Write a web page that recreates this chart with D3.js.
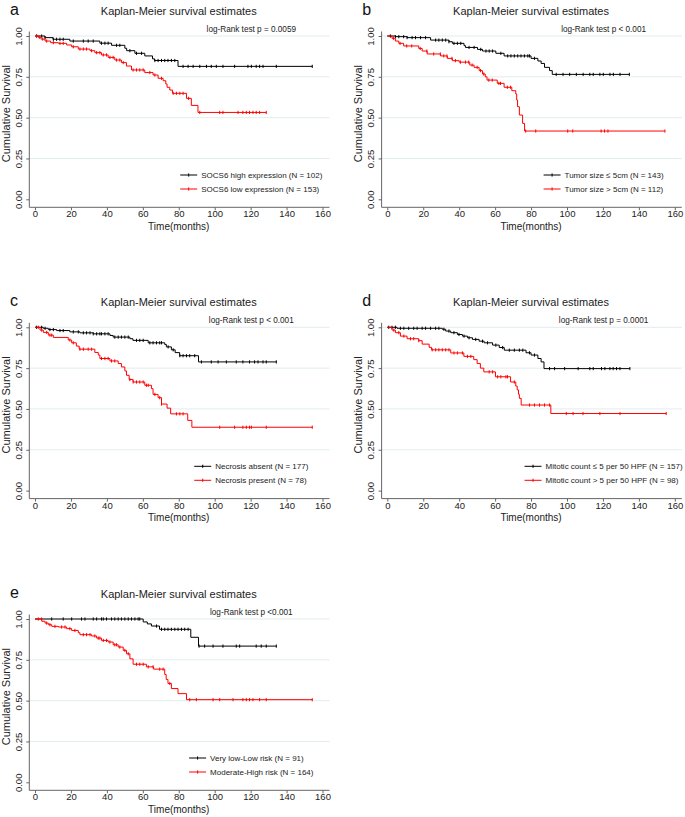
<!DOCTYPE html>
<html><head><meta charset="utf-8">
<script src="https://cdn.jsdelivr.net/npm/d3@7"></script>
<style>
html,body{margin:0;padding:0;background:#fff;}
svg{display:block;font-family:"Liberation Sans",Arial,sans-serif;}
</style></head>
<body>
<svg id="chart" width="685" height="817"></svg>
<script>
// ---------- DATA ----------
const panelLetters = ["a","b","c","d","e"];
const panelTitle = "Kaplan-Meier survival estimates";
const logRankLabels = ["log-Rank test p = 0.0059","log-Rank test p < 0.001","log-Rank test p < 0.001","log-Rank test p = 0.0001","log-Rank test p <0.001"];
const legendBlack = ["SOCS6 high expression (N = 102)","Tumor size \u2264 5cm (N = 143)","Necrosis absent (N = 177)","Mitotic count \u2264 5 per 50 HPF (N = 157)","Very low-Low risk (N = 91)"];
const legendRed = ["SOCS6 low expression (N = 153)","Tumor size > 5cm (N = 112)","Necrosis present (N = 78)","Mitotic count > 5 per 50 HPF (N = 98)","Moderate-High risk (N = 164)"];
const xTicks = [0,20,40,60,80,100,120,140,160];
const yTicks = [0,0.25,0.5,0.75,1];
const xTitle = "Time(months)";
const yTitle = "Cumulative Survival";

// step arrays: [time (months), survival after drop]; censor arrays: times
const aHighSteps = [[5.5,0.99],[10,0.98],[19.4,0.969],[36.1,0.956],[42.6,0.943],[50,0.925],[51,0.91],[55.6,0.894],[61.1,0.878],[65.4,0.86],[66.5,0.85],[79.6,0.814]];
const aHighCens = [0.9,3.7,5.6,10.2,12,13.9,15.7,21.3,26.9,29.6,32.4,37,38.9,40.7,45.4,47.2,52.8,56.5,59.3,66.7,68.5,70.4,72.2,74,75.9,77.8,82.4,85.2,88,91.7,95.4,98.1,100.9,104.6,111.1,118.5,120.4,123.1,125,126.9,134.3,154.3];
const aLowSteps = [[1.9,0.992],[3.3,0.981],[5.6,0.969],[8.7,0.959],[13,0.955],[17.6,0.945],[20.4,0.934],[24.1,0.92],[30.6,0.91],[33.3,0.898],[37,0.884],[40.7,0.869],[44.4,0.853],[48.1,0.837],[50.9,0.816],[53.7,0.792],[61.1,0.776],[65.7,0.761],[68.5,0.741],[71.3,0.726],[72.8,0.706],[73.5,0.686],[75,0.669],[76.5,0.649],[84.3,0.618],[87,0.575],[90.7,0.532]];
const aLowCens = [0.9,2.4,4.3,6.5,10.2,13.9,15.7,21.3,25,26.9,28.7,31.5,34.3,36.1,38,39.8,41.7,43.5,45.4,47.2,49.1,54.6,56.5,58.3,60.2,63.9,66.7,70.4,76.9,78.7,80.6,82.4,85.5,91.7,102.8,104.6,113,115.7,117.6,119.4,121.3,123.1,125,128.7];

const bSmallSteps = [[4.5,0.996],[11,0.99],[24.1,0.975],[34.3,0.965],[36.2,0.955],[42.7,0.941],[43.5,0.93],[50.2,0.918],[53,0.908],[60.4,0.894],[65,0.878],[80,0.863],[83.8,0.847],[85.6,0.832],[87.5,0.808],[90.3,0.788],[91.8,0.765]];
const bSmallCens = [1.7,4.5,6.4,9.1,11,13.8,15.7,18.5,21.3,26.9,28.7,30.6,32.5,34.3,37.1,39,40.9,45.5,48.3,52,54.9,56.7,58.6,63.2,67,68.8,70.7,72.6,74.4,76.3,78.2,79.1,81.9,94,97.8,101.5,105.2,109,112.7,114.6,118.3,120.2,123.9,125.8,129.5,134.7];
const bLargeSteps = [[2.6,0.986],[4.5,0.969],[6.4,0.955],[9.1,0.939],[17.5,0.924],[19.4,0.908],[22.2,0.89],[29.7,0.878],[33.4,0.863],[36.2,0.849],[40,0.84],[45.9,0.822],[48.3,0.808],[51.1,0.788],[53,0.767],[54.5,0.75],[55.5,0.73],[61.2,0.71],[65,0.686],[69.3,0.665],[71.5,0.645],[72,0.608],[72.5,0.567],[73.5,0.516],[75.3,0.465],[76.4,0.418]];
const bLargeCens = [3.4,7.1,10.8,13.6,18.3,22,25.8,29.5,31.4,33.2,36,37.9,40.7,43.5,45.3,47.2,50,51.9,53.7,56.5,58.4,62.1,63,66.8,68.6,77,82.6,100.4,103.2,119,120.9,122.8,154.5];

const cAbsSteps = [[4.6,0.994],[7.4,0.986],[12,0.98],[19.4,0.972],[25,0.966],[32.4,0.96],[41.7,0.95],[43.5,0.94],[52.8,0.93],[54.5,0.92],[63,0.905],[72.2,0.895],[73.1,0.88],[75.9,0.862],[78,0.845],[80.5,0.826],[91,0.788]];
const cAbsCens = [0.9,3.7,5.6,8.3,10.2,13.9,15.7,21.3,24.1,26.9,28.7,30.6,32.4,34.3,36.1,37,38.9,40.7,44.4,46.3,48.1,50,51.9,56.5,58.3,60.2,63.9,65.7,67.6,69.4,70.4,74.1,76.9,80.6,82.4,84.3,86.1,88.9,92.6,98.1,101.9,106.5,112,115.7,119.4,122.2,124.1,126.9,128.7,134.3];
const cPresSteps = [[2.8,0.983],[4.6,0.969],[7.4,0.952],[10.2,0.938],[18.5,0.922],[20.4,0.905],[23,0.885],[24.6,0.866],[33.3,0.846],[35.2,0.83],[36.1,0.809],[41.7,0.794],[46.3,0.778],[48.1,0.757],[50,0.733],[50.9,0.706],[52.4,0.68],[54.6,0.665],[61.1,0.645],[64.8,0.624],[65.7,0.589],[68.5,0.569],[70.4,0.53],[73.5,0.505],[75.5,0.47],[85,0.43],[87.3,0.388]];
const cPresCens = [1.85,3.7,6.5,8.3,9.3,19.4,21.3,25,26.9,29.6,31.5,37,38.9,40.7,42.6,44.4,52.8,54.6,56.5,58.3,60.2,62,63,66.7,69.4,70.4,78.7,80.6,82.4,102.8,111.1,115.7,117.6,119.4,120.4,128.7,154.3];

const dLowSteps = [[5.4,0.994],[30.6,0.988],[32.5,0.977],[35.3,0.967],[39,0.956],[41.8,0.946],[44.6,0.936],[47.4,0.926],[51.1,0.915],[53.9,0.905],[58.6,0.891],[62.3,0.876],[65.1,0.86],[77.2,0.844],[80,0.83],[83.8,0.809],[85.6,0.788],[87.2,0.747]];
const dLowCens = [0.8,2.6,4.5,7.3,9.2,11.9,14.7,16.6,19.4,21.3,24.1,26.9,28.7,31.5,34.3,37.1,39.9,42.7,45.5,49.2,53,55.8,60.4,64.2,67.9,70.7,73.5,75.4,79.1,81.9,90.3,93.1,98.7,106.2,112.7,114.6,119.2,121.1,123.9,125.7,127.6,129.5,135];
const dHighSteps = [[2.6,0.983],[4.5,0.967],[7.3,0.946],[11,0.93],[17.5,0.918],[19.4,0.897],[23.3,0.877],[24.6,0.862],[35.3,0.843],[42.6,0.822],[48.1,0.802],[50,0.778],[51.8,0.75],[53.7,0.727],[60.2,0.697],[68.6,0.665],[71.5,0.64],[72.3,0.617],[73,0.59],[73.5,0.565],[74.5,0.524],[91,0.472]];
const dHighCens = [3.6,6.4,9.2,12.9,14.7,17.5,25,26.9,28.7,30.6,32.5,34.3,37.1,39,41.8,44.6,46.5,56.7,58.6,61.4,63.2,66,66.9,70.7,79.1,81.9,84.7,87.5,90.3,99.6,103.4,108.9,118.3,129.5,155.2];

const eLowSteps = [[60.2,0.982],[62.5,0.97],[64.8,0.957],[69.3,0.937],[86.7,0.888],[91,0.834]];
const eLowCens = [9.3,15.7,20.4,25.9,27.8,32.4,34.3,37,38,39.8,42.6,44.4,46.3,48.1,50,51.9,53.7,55.6,57.4,58.3,67.6,70.4,72.2,74,75.9,77.8,79.6,81.5,83.3,85.2,91.3,94.4,99.1,104.6,112,113.9,123.1,125.9,128.7,134.3];
const eHighSteps = [[3.8,0.986],[5.6,0.975],[7.4,0.965],[9.3,0.955],[13,0.951],[17.6,0.941],[20.4,0.93],[24.1,0.916],[25,0.904],[31.5,0.896],[34.3,0.883],[37,0.869],[40.7,0.859],[43.5,0.842],[46.3,0.828],[49.1,0.808],[50.9,0.787],[52.8,0.756],[54.6,0.723],[62,0.707],[66,0.693],[72.2,0.66],[73,0.63],[74,0.605],[75.9,0.574],[79.6,0.543],[84.3,0.506]];
const eHighCens = [1.85,3.7,6.5,8.3,11.1,14.8,16.7,19.4,22.2,26.9,28.7,30.6,33.3,35.2,36.1,38,39.8,41.7,44.4,45.4,47.2,50,51.9,56.5,58.3,60.2,63,65.7,69.4,71.3,75,86.1,89.8,99.1,102.8,110.2,115.7,117.6,119.4,121.3,125,128.7,154.3];

const blackSteps = [aHighSteps,bSmallSteps,cAbsSteps,dLowSteps,eLowSteps];
const blackCens = [aHighCens,bSmallCens,cAbsCens,dLowCens,eLowCens];
const redSteps = [aLowSteps,bLargeSteps,cPresSteps,dHighSteps,eHighSteps];
const redCens = [aLowCens,bLargeCens,cPresCens,dHighCens,eHighCens];

// ---------- LAYOUT ----------
const panelX0 = [35, 387.3, 35, 387.3, 35];     // pixel of time 0
const panelY1 = [36, 36, 327.3, 327.3, 619];    // pixel of survival 1.00
const plotW = 287.5, plotH = 163.3;
const COL_BLACK = "#000", COL_RED = "#ff0000";

const svg = d3.select("#chart");

function survAt(steps, t){
  let s = 1;
  for (const [tt, ss] of steps){ if (tt <= t) s = ss; else break; }
  return s;
}

panelLetters.forEach((letter, i) => {
  const x0 = panelX0[i], y1 = panelY1[i];
  const x = d3.scaleLinear().domain([0,160]).range([x0, x0+plotW]);
  const y = d3.scaleLinear().domain([0,1]).range([y1+plotH, y1]);
  const axX = x0 - 5.7, axY = y1 + plotH + 8;
  const rightEdge = x0 + plotW + 7;
  const g = svg.append("g");

  // gridlines
  g.selectAll("line.grid").data(yTicks.filter(d => d > 0)).join("line")
    .attr("x1", axX).attr("x2", rightEdge)
    .attr("y1", d => y(d)).attr("y2", d => y(d))
    .attr("stroke", "#e1ecee").attr("stroke-width", 1);

  // y axis
  const ya = g.append("g").attr("transform", `translate(${axX},0)`)
    .call(d3.axisLeft(y).tickValues(yTicks).tickFormat(d3.format(".2f")).tickSize(3).tickSizeOuter(0));
  ya.select(".domain").remove();
  ya.selectAll(".tick line").attr("stroke", "#666");
  ya.selectAll(".tick text")
    .attr("transform", "rotate(-90)").attr("x", 0).attr("y", -7.2).attr("dy", 0)
    .attr("text-anchor", "middle").attr("font-size", 9.5).attr("fill", "#222");
  g.append("line").attr("x1", axX).attr("x2", axX).attr("y1", y1 - 4.5).attr("y2", axY).attr("stroke", "#666");

  // x axis
  const xa = g.append("g").attr("transform", `translate(0,${axY})`)
    .call(d3.axisBottom(x).tickValues(xTicks).tickSize(3).tickSizeOuter(0));
  xa.select(".domain").remove();
  xa.selectAll(".tick line").attr("stroke", "#666");
  xa.selectAll(".tick text").attr("y", 10).attr("dy", 0).attr("font-size", 9.5).attr("fill", "#222");
  g.append("line").attr("x1", axX).attr("x2", rightEdge).attr("y1", axY).attr("y2", axY).attr("stroke", "#666");

  // axis titles
  g.append("text").attr("x", (x(0)+x(160))/2).attr("y", axY + 22.5)
    .attr("text-anchor", "middle").attr("font-size", 10).attr("fill", "#222").text(xTitle);
  g.append("text").attr("transform", `translate(${x0-25},${y(0.5)-4}) rotate(-90)`)
    .attr("text-anchor", "middle").attr("font-size", 11).attr("fill", "#222").text(yTitle);

  // title, letter, log-rank
  g.append("text").attr("x", (x(0)+x(160))/2).attr("y", y1 - 21)
    .attr("text-anchor", "middle").attr("font-size", 11).attr("fill", "#222").text(panelTitle);
  g.append("text").attr("x", x0 - 25).attr("y", y1 - 21)
    .attr("font-size", 16).attr("fill", "#111").text(letter);
  const cx = x0 + 216.3;
  g.append("text").attr("x", cx).attr("y", y1 - 4)
    .attr("text-anchor", "middle").attr("font-size", 8.2).attr("fill", "#222").text(logRankLabels[i]);

  // curves
  const line = d3.line().x(d => x(d[0])).y(d => y(d[1])).curve(d3.curveStepAfter);
  const series = [
    {steps: blackSteps[i], cens: blackCens[i], color: COL_BLACK},
    {steps: redSteps[i], cens: redCens[i], color: COL_RED}
  ];
  series.forEach(s => {
    const end = d3.max(s.cens);
    const pts = [[0,1], ...s.steps, [end, s.steps[s.steps.length-1][1]]];
    g.append("path").attr("d", line(pts)).attr("fill", "none")
      .attr("stroke", s.color).attr("stroke-width", 1);
    g.selectAll(null).data(s.cens).join("line")
      .attr("x1", d => x(d)).attr("x2", d => x(d))
      .attr("y1", d => y(survAt(s.steps, d)) - 1.6)
      .attr("y2", d => y(survAt(s.steps, d)) + 1.6)
      .attr("stroke", s.color).attr("stroke-width", 1);
  });

  // legend
  const lg = g.append("g");
  const labels = [legendBlack[i], legendRed[i]];
  const cols = [COL_BLACK, COL_RED];
  const texts = labels.map((t, k) => lg.append("text").attr("y", y1 + 139 + 14*k + 3)
    .attr("font-size", 8).attr("fill", "#222").text(t));
  const tw = d3.max(texts, t => t.node().getComputedTextLength());
  const total = 21 + tw;
  const lx = cx - total/2;
  texts.forEach(t => t.attr("x", lx + 21));
  cols.forEach((c, k) => {
    const ly = y1 + 139 + 14*k;
    lg.append("line").attr("x1", lx).attr("x2", lx + 17).attr("y1", ly).attr("y2", ly)
      .attr("stroke", c).attr("stroke-width", 1);
    lg.append("line").attr("x1", lx + 8.5).attr("x2", lx + 8.5).attr("y1", ly - 1.6).attr("y2", ly + 1.6)
      .attr("stroke", c).attr("stroke-width", 1);
  });
});
</script>
</body></html>
